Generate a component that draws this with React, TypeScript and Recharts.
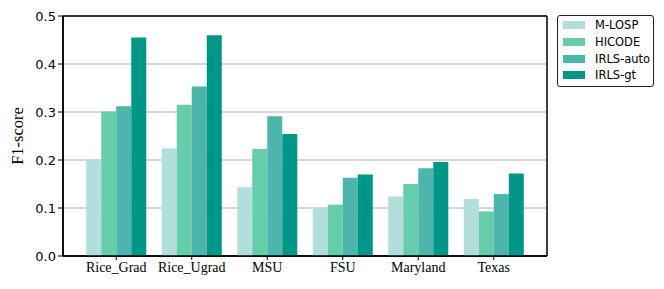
import React from "react";
import {
  BarChart,
  Bar,
  XAxis,
  YAxis,
  CartesianGrid,
} from "recharts";

const categories = ["Rice_Grad", "Rice_Ugrad", "MSU", "FSU", "Maryland", "Texas"];
const mLosp = [0.201, 0.224, 0.143, 0.099, 0.124, 0.119];
const hicode = [0.301, 0.315, 0.223, 0.107, 0.15, 0.093];
const irlsAuto = [0.312, 0.353, 0.291, 0.163, 0.183, 0.129];
const irlsGt = [0.455, 0.46, 0.254, 0.17, 0.196, 0.172];
const yTicks = [0, 0.1, 0.2, 0.3, 0.4, 0.5];

const seriesNames = ["M-LOSP", "HICODE", "IRLS-auto", "IRLS-gt"];
const seriesColors = ["#b2dfdb", "#66cdaa", "#4db6ac", "#009688"];

const data = categories.map((c, i) => ({
  name: c,
  "M-LOSP": mLosp[i],
  HICODE: hicode[i],
  "IRLS-auto": irlsAuto[i],
  "IRLS-gt": irlsGt[i],
}));

const sans = "'DejaVu Sans', sans-serif";
const serif = "'Liberation Serif', 'Times New Roman', serif";

const LegendBox = () => (
  <div
    style={{
      position: "absolute",
      left: 557,
      top: 15,
      border: "1px solid #222",
      borderRadius: 3,
      background: "#fff",
      width: 95,
      height: 69,
      boxSizing: "content-box",
      fontFamily: sans,
      fontSize: 11.5,
      color: "#000",
      paddingTop: 1,
    }}
  >
    {seriesNames.map((n, i) => (
      <div
        key={n}
        style={{ display: "flex", alignItems: "center", height: 16.7, marginLeft: 5 }}
      >
        <div style={{ width: 22, height: 8, background: seriesColors[i], marginRight: 10 }} />
        <span>{n}</span>
      </div>
    ))}
  </div>
);

const frameX = (p: any) => {
  const o = p.offset || {};
  const left = o.left ?? 0;
  const w = o.width ?? (p.width - (o.left ?? 0) - (o.right ?? 0));
  return [left, left + w];
};
const frameY = (p: any) => {
  const o = p.offset || {};
  const top = o.top ?? 0;
  const h = o.height ?? (p.height - (o.top ?? 0) - (o.bottom ?? 0));
  return [top, top + h];
};

export default function App() {
  return (
    <div style={{ position: "absolute", left: 0, top: 0, width: 664, height: 289, background: "#fff" }}>
      <BarChart
        width={664}
        height={289}
        data={data}
        margin={{ top: 16, right: 117, bottom: 0, left: 0 }}
        barGap={0}
        barCategoryGap="10.3%"
      >
        <CartesianGrid
          vertical={false}
          stroke="#b0b0b0"
          strokeWidth={1}
        />
        <XAxis
          dataKey="name"
          padding={{ left: 15.5, right: 15.5 }}
          height={33}
          axisLine={{ stroke: "#000", strokeWidth: 1.5 }}
          tickLine={{ stroke: "#000", strokeWidth: 1 }}
          tickSize={4}
          tick={{ fill: "#000", fontSize: 14, fontFamily: serif }}
          interval={0}
        />
        <YAxis
          domain={[0, 0.5]}
          ticks={yTicks}
          width={63}
          axisLine={{ stroke: "#000", strokeWidth: 1.5 }}
          tickLine={{ stroke: "#000", strokeWidth: 1 }}
          tickSize={5}
          tickFormatter={(v: number) => v.toFixed(1)}
          tick={{ fill: "#000", fontSize: 13, fontFamily: sans }}
          label={{
            value: "F1-score",
            angle: -90,
            position: "insideLeft",
            offset: 17,
            style: { fontFamily: serif, fontSize: 16.5, fill: "#000", textAnchor: "middle" },
          }}
        />
        {seriesNames.map((n, i) => (
          <Bar
            key={n}
            dataKey={n}
            fill={seriesColors[i]}
            isAnimationActive={false}
          />
        ))}
        <CartesianGrid
          horizontal={true}
          vertical={true}
          stroke="#000"
          strokeWidth={1.5}
          verticalCoordinatesGenerator={frameX}
          horizontalCoordinatesGenerator={frameY}
        />
      </BarChart>
      <LegendBox />
    </div>
  );
}
